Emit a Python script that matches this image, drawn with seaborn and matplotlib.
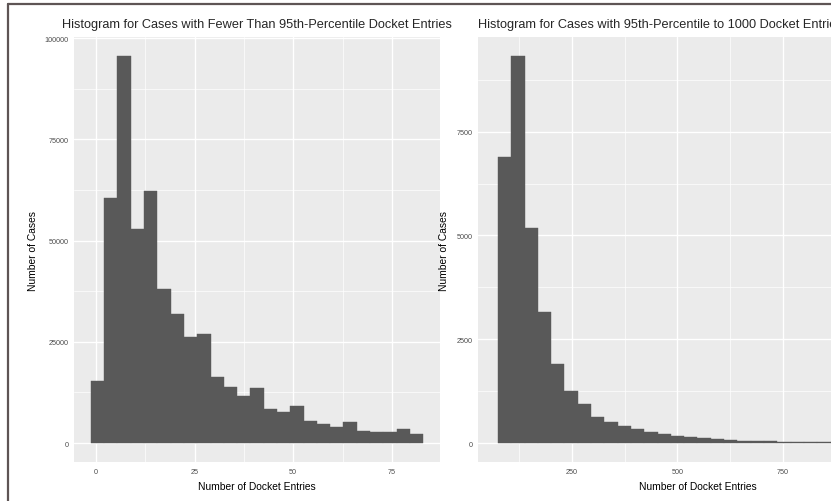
import numpy as np
import pandas as pd
import matplotlib
matplotlib.use("Agg")
import matplotlib.pyplot as plt
from matplotlib.lines import Line2D
from matplotlib.ticker import MultipleLocator, FixedLocator
import seaborn as sns

# Cases with fewer than the 95th-percentile number of docket entries
low_counts = [15300, 60500, 95600, 52900, 62200, 38000, 31900, 26200, 26900,
              16300, 13800, 11600, 13600, 8400, 7700, 9100, 5400, 4700, 4000,
              5200, 3000, 2700, 2700, 3500, 2200]
low_bin_start = -1.3
low_bin_width = 3.37
low_xticks = [0, 25, 50, 75]
low_yticks = [0, 25000, 50000, 75000, 100000]

# Cases with 95th-percentile to 1000 docket entries
high_counts = [6900, 9320, 5190, 3150, 1910, 1260, 940, 630, 500, 400, 340,
               270, 210, 160, 140, 120, 90, 70, 60, 50, 40, 35, 30, 25, 20,
               20, 15, 15, 12, 10]
high_bin_start = 74
high_bin_width = 31.6
high_xticks = [250, 500, 750]
high_yticks = [0, 2500, 5000, 7500]

titles = ["Histogram for Cases with Fewer Than 95th-Percentile Docket Entries",
          "Histogram for Cases with 95th-Percentile to 1000 Docket Entries"]
xlabel = "Number of Docket Entries"
ylabel = "Number of Cases"

sns.set_theme(style="darkgrid", rc={
    "axes.facecolor": "#EBEBEB",
    "grid.color": "white",
    "axes.edgecolor": "#EBEBEB",
})
plt.rcParams["font.family"] = ["Liberation Sans", "DejaVu Sans"]

BAR = "#595959"
TICK = "#4D4D4D"

fig = plt.figure(figsize=(8.31, 5.02), dpi=100)
fig.patch.set_facecolor("white")
ax1 = fig.add_axes([0.0894, 0.0769, 0.4398, 0.848])
ax2 = fig.add_axes([0.5752, 0.0769, 0.5283, 0.848])


def draw(ax, counts, start, width, xticks, yticks, minor_x, minor_y):
    n = len(counts)
    edges = [float(v) for v in start + width * np.arange(n + 1)]
    centers = [(a + b) / 2 for a, b in zip(edges[:-1], edges[1:])]
    df = pd.DataFrame({"x": centers, "n": counts})
    sns.histplot(data=df, x="x", weights="n", bins=edges, ax=ax,
                 color=BAR, alpha=1, edgecolor=BAR, linewidth=0.3)
    span = edges[-1] - edges[0]
    ax.set_xlim(edges[0] - 0.05 * span, edges[-1] + 0.05 * span)
    ymax = max(counts)
    ax.set_ylim(-0.05 * ymax, 1.05 * ymax)
    ax.xaxis.set_major_locator(FixedLocator(xticks))
    ax.yaxis.set_major_locator(FixedLocator(yticks))
    ax.xaxis.set_minor_locator(MultipleLocator(minor_x))
    ax.yaxis.set_minor_locator(MultipleLocator(minor_y))
    ax.grid(which="major", color="white", linewidth=1.0)
    ax.grid(which="minor", color="white", linewidth=0.5)
    ax.set_axisbelow(True)
    ax.tick_params(axis="both", which="major", labelsize=5.2, colors="#333333",
                   labelcolor=TICK, length=2.5, width=0.6, pad=1.5)
    ax.tick_params(axis="both", which="minor", length=0)
    ax.set_xlabel(xlabel, fontsize=7.4, color="black", labelpad=4)
    ax.set_ylabel(ylabel, fontsize=7.4, color="black", labelpad=5)
    for s in ax.spines.values():
        s.set_visible(False)


draw(ax1, low_counts, low_bin_start, low_bin_width, low_xticks, low_yticks,
     12.5, 12500)
draw(ax2, high_counts, high_bin_start, high_bin_width, high_xticks, high_yticks,
     125, 1250)
# the 1000 gridline sits beyond the visible area
ax2.axvline(1000, color="white", linewidth=1.0, zorder=0)

ax1.set_title(titles[0], fontsize=9.2, loc="center", pad=7)
ax2.set_title(titles[1], fontsize=9.2, loc="left", pad=7)

# frame lines along the top and left edges
fig.add_artist(Line2D([8 / 831, 1], [1 - 5 / 502, 1 - 5 / 502],
                      transform=fig.transFigure, color="#5E5555", linewidth=1.6))
fig.add_artist(Line2D([8 / 831, 8 / 831], [0, 1 - 5 / 502],
                      transform=fig.transFigure, color="#5E5555", linewidth=1.6))

fig.savefig("out.png", dpi=100)
